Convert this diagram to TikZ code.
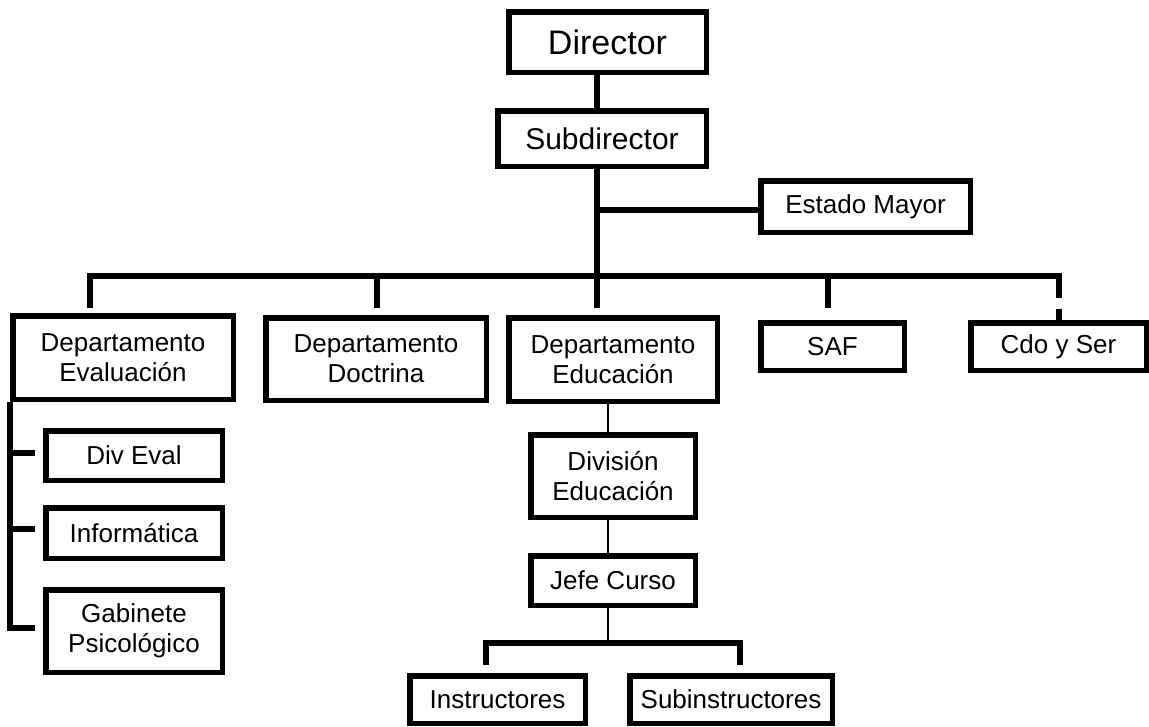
\documentclass[tikz,border=0pt]{standalone}
\usepackage{fontspec}
\setmainfont{Liberation Sans}
\tikzset{
  box/.style={draw, line width=5.5pt, inner sep=0pt, align=center,
              font=\fontsize{26}{30}\selectfont},
  tl/.style={line width=5.5pt},
  thl/.style={line width=1.8pt},
}
\begin{document}
\begin{tikzpicture}[x=1pt, y=-1pt]
\useasboundingbox (0,0) rectangle (1149,726);
% boxes
\node[box, minimum width=197.5pt, minimum height=60.5pt, font=\fontsize{34}{38}\selectfont] (director) at (607.5,42) {Director};
\node[box, minimum width=208.5pt, minimum height=55.5pt, font=\fontsize{30}{34}\selectfont] (subdir) at (602,138.5) {Subdirector};
\node[box, minimum width=209.5pt, minimum height=51.5pt] (estado) at (865.5,206.5) {Estado Mayor};
\node[box, minimum width=220.5pt, minimum height=83.5pt] (eval) at (123,357.5) {Departamento\\Evaluación};
\node[box, minimum width=220.5pt, minimum height=82.5pt] (doctrina) at (376,359) {Departamento\\Doctrina};
\node[box, minimum width=208.5pt, minimum height=83.5pt] (educacion) at (613,359.5) {Departamento\\Educación};
\node[box, minimum width=143.5pt, minimum height=47.5pt] (saf) at (832.5,346.5) {SAF};
\node[box, minimum width=175.5pt, minimum height=47.5pt] (cdo) at (1058.5,346.5) {Cdo y Ser};
\node[box, minimum width=176.5pt, minimum height=49.5pt] (diveval) at (134,455.5) {Div Eval};
\node[box, minimum width=176.5pt, minimum height=50.5pt] (informatica) at (134,533) {Informática};
\node[box, minimum width=176.5pt, minimum height=82.5pt] (gabinete) at (134,631) {Gabinete\\Psicológico};
\node[box, minimum width=164.5pt, minimum height=82.5pt] (division) at (613,476) {División\\Educación};
\node[box, minimum width=164.5pt, minimum height=49.5pt] (jefe) at (613,580.5) {Jefe Curso};
\node[box, minimum width=175.5pt, minimum height=47.5pt] (instructores) at (497.5,699.5) {Instructores};
\node[box, minimum width=202.5pt, minimum height=47.5pt] (subinstr) at (731,699.5) {Subinstructores};
% junction coordinates
\coordinate (trunk) at (597,0);
\coordinate (bar) at (597,276);
\coordinate (eb) at (597,210);
\coordinate (d1) at (90,308);
\coordinate (d2) at (377,308);
\coordinate (d3) at (597,308);
\coordinate (d4) at (828,308);
\coordinate (bR) at (1059,276);
\coordinate (gapT) at (1059,298);
\coordinate (gapB) at (1059,309);
\coordinate (b1) at (35,453);
\coordinate (b2) at (35,529);
\coordinate (b3) at (35,628);
\coordinate (tx) at (608,0);
\coordinate (bar2) at (608,643);
\coordinate (idrop) at (486,665);
\coordinate (sdrop) at (740,665);
% connectors
\draw[tl] (director.south -| trunk) -- (subdir.north -| trunk);
\draw[tl] (subdir.south -| trunk) -- (bar);
\draw[tl] (eb) -- (eb -| estado.west);
\draw[tl] (d1) |- (bR) -- (gapT);
\draw[tl] (gapB) -- (cdo.north -| gapB);
\draw[tl] (d2 |- bar) -- (d2);
\draw[tl] (d3 |- bar) -- (d3);
\draw[tl] (d4 |- bar) -- (d4);
\draw[tl] (eval.south west) -- (eval.south west |- b3) -- (b3);
\draw[tl] (eval.south west |- b1) -- (b1);
\draw[tl] (eval.south west |- b2) -- (b2);
\draw[thl] (educacion.south -| tx) -- (division.north -| tx);
\draw[thl] (division.south -| tx) -- (jefe.north -| tx);
\draw[thl] (jefe.south -| tx) -- (bar2);
\draw[tl] (idrop) |- (sdrop |- bar2) -- (sdrop);
\end{tikzpicture}
\end{document}
